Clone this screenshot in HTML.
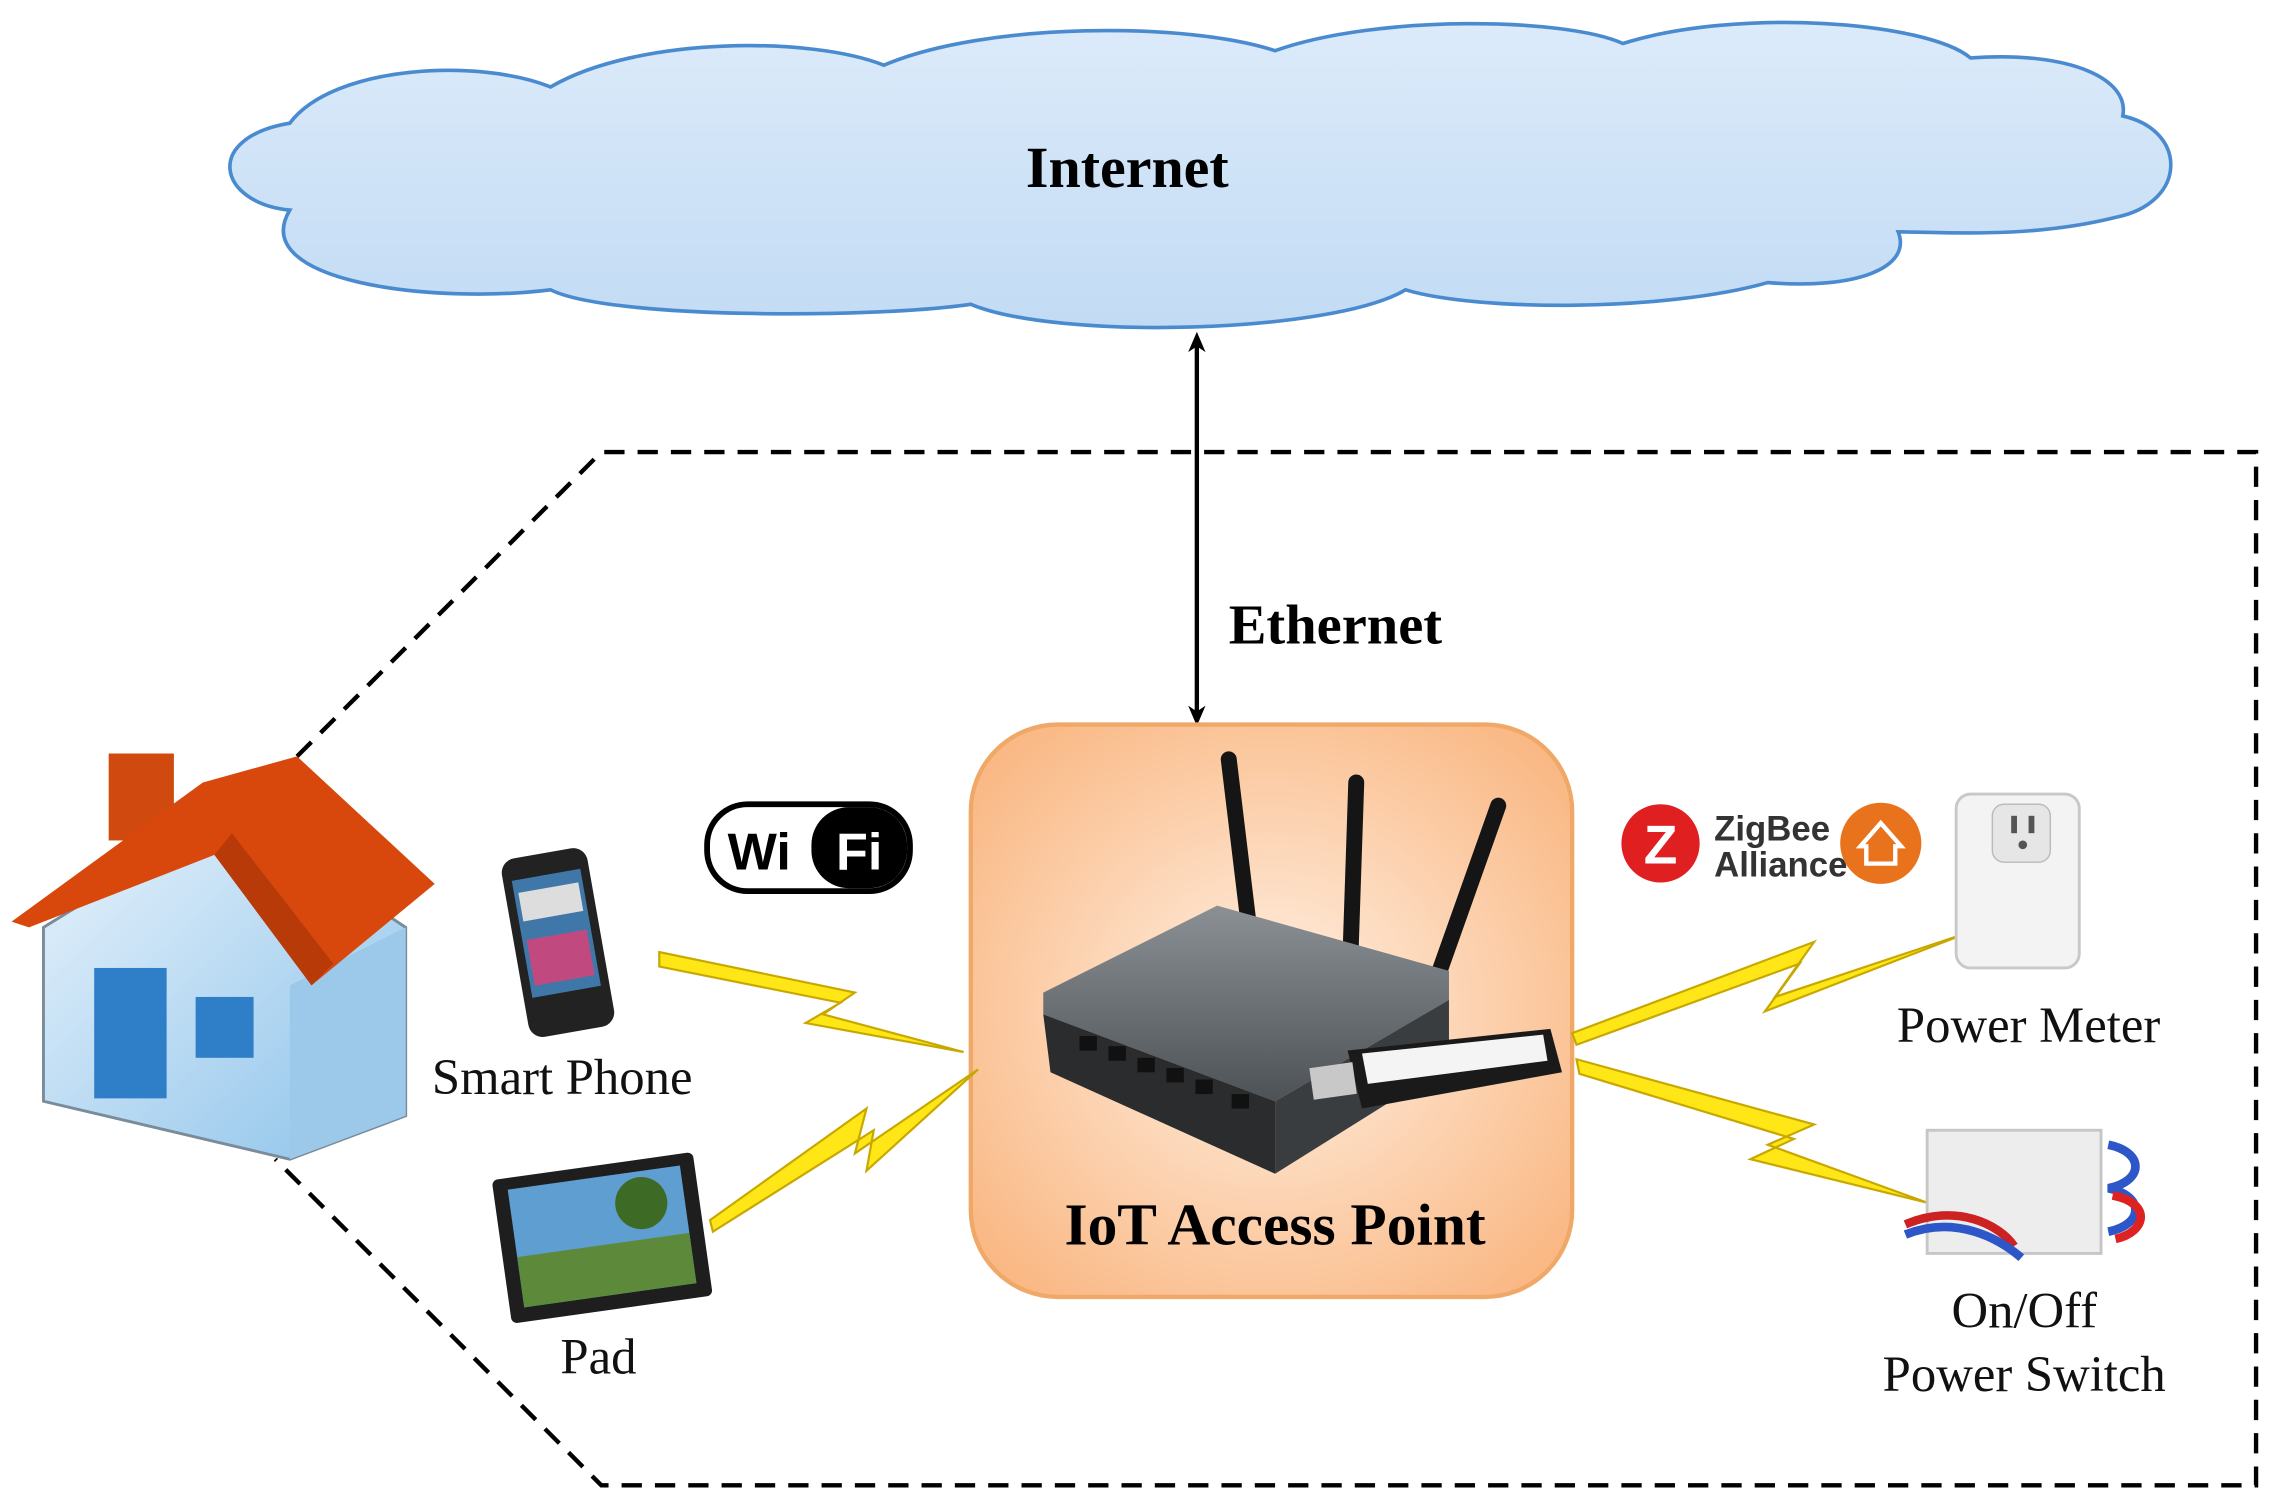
<!DOCTYPE html>
<html><head><meta charset="utf-8"><style>
html,body{margin:0;padding:0;background:#fff;}
svg{display:block}
text{font-family:"Liberation Serif",serif;}
</style></head><body>
<svg width="2272" height="1507" viewBox="0 0 1568 1040" preserveAspectRatio="none">
<defs>
<linearGradient id="cl" x1="0" y1="0" x2="0" y2="1"><stop offset="0" stop-color="#dcebfa"/><stop offset="1" stop-color="#c2dbf4"/></linearGradient>
<radialGradient id="ap" cx="0.5" cy="0.5" r="0.7"><stop offset="0" stop-color="#fff1e4"/><stop offset="1" stop-color="#f9b27a"/></radialGradient>
<linearGradient id="wall" x1="0" y1="0" x2="1" y2="1"><stop offset="0" stop-color="#e8f3fc"/><stop offset="1" stop-color="#8cc2ea"/></linearGradient>
<linearGradient id="rt" x1="0" y1="0" x2="0" y2="1"><stop offset="0" stop-color="#8b9094"/><stop offset="1" stop-color="#4d5256"/></linearGradient>
<marker id="ah" markerWidth="14" markerHeight="14" refX="7" refY="7" orient="auto-start-reverse" markerUnits="userSpaceOnUse"><path d="M0,1 L14,7 L0,13 L4,7 Z" fill="#000"/></marker>
</defs>
<g fill="url(#cl)" stroke="#4a8bd0" stroke-width="2.5">
<path d="M200,145 C150,140 140,95 200,85 C230,45 330,40 380,60 C440,25 560,25 610,45 C680,15 820,15 880,35 C950,10 1080,12 1120,30 C1200,5 1330,15 1360,40 C1430,35 1470,55 1465,80 C1510,90 1510,140 1460,150 C1400,165 1340,160 1310,160 C1320,185 1280,200 1220,195 C1150,215 1020,215 970,200 C920,230 730,235 670,210 C600,220 420,220 380,200 C300,210 170,195 200,145 Z"/>
</g>
<text x="778" y="129" font-size="40" font-weight="bold" text-anchor="middle">Internet</text>
<polyline points="205,522 415,312 1557,312 1557,1025 415,1025 190,800" fill="none" stroke="#000" stroke-width="3" stroke-dasharray="14,9"/>
<line x1="826" y1="236" x2="826" y2="494" stroke="#000" stroke-width="3" marker-start="url(#ah)" marker-end="url(#ah)"/>
<text x="848" y="444" font-size="39" font-weight="bold">Ethernet</text>
<g>
<polygon points="30,640 160,560 280,640 280,770 200,800 30,760" fill="url(#wall)" stroke="#7a8b9a" stroke-width="2"/>
<polygon points="200,800 280,770 280,640 200,680" fill="#9cc9ea"/>
<rect x="75" y="520" width="45" height="60" fill="#d04a10"/>
<polygon points="8,636 140,540 205,522 300,610 215,680 148,590 20,640" fill="#d8470c"/>
<polygon points="148,590 215,680 230,665 160,575" fill="#b83a08"/>
<rect x="65" y="668" width="50" height="90" fill="#2f7fc8"/>
<rect x="135" y="688" width="40" height="42" fill="#2f7fc8"/>
</g>
<rect x="670" y="500" width="415" height="395" rx="60" fill="url(#ap)" stroke="#f0a868" stroke-width="3"/>
<text x="880" y="859" font-size="41" font-weight="bold" text-anchor="middle">IoT Access Point</text>
<g>
<line x1="848" y1="524" x2="862" y2="640" stroke="#151515" stroke-width="11" stroke-linecap="round"/>
<line x1="936" y1="540" x2="932" y2="660" stroke="#151515" stroke-width="11" stroke-linecap="round"/>
<line x1="1034" y1="556" x2="990" y2="680" stroke="#151515" stroke-width="11" stroke-linecap="round"/>
<polygon points="720,685 840,625 1000,670 1000,690 880,760 720,700" fill="url(#rt)"/>
<polygon points="720,700 880,760 880,810 725,740" fill="#2a2c2e"/>
<polygon points="880,760 1000,690 1000,735 880,810" fill="#3a3d40"/>
<g fill="#111"><rect x="745" y="715" width="12" height="10"/><rect x="765" y="722" width="12" height="10"/><rect x="785" y="730" width="12" height="10"/><rect x="805" y="737" width="12" height="10"/><rect x="825" y="745" width="12" height="10"/><rect x="850" y="755" width="12" height="10"/></g>
<polygon points="930,725 1070,710 1078,740 940,765" fill="#1a1a1a"/>
<polygon points="940,727 1065,714 1068,732 944,748" fill="#f4f4f4"/>
<rect x="905" y="735" width="30" height="22" fill="#c8c8c8" transform="rotate(-8 920 746)"/>
</g>
<g fill="#ffe617" stroke="#c8a800" stroke-width="1.5">
<polygon points="455,657 590,685 568,700 665,726 556,706 580,692 455,667"/>
<polygon points="490,842 598,765 590,796 675,738 598,808 603,780 492,850"/>
<polygon points="1085,713 1252,650 1225,688 1360,643 1218,698 1242,665 1088,721"/>
<polygon points="1088,731 1252,776 1220,790 1330,830 1208,800 1238,786 1090,741"/>
</g>
<g transform="rotate(-10 385 650)">
<rect x="355" y="588" width="60" height="125" rx="10" fill="#222"/>
<rect x="361" y="603" width="48" height="82" fill="#3f78a8"/>
<rect x="364" y="612" width="42" height="20" fill="#ddd"/>
<rect x="364" y="645" width="42" height="32" fill="#c04a80"/>
</g>
<g transform="rotate(-8 410 850)">
<rect x="345" y="805" width="140" height="100" rx="4" fill="#1e1e1e"/>
<rect x="355" y="813" width="120" height="82" fill="#5f9ed0"/>
<rect x="355" y="860" width="120" height="35" fill="#5c8a3a"/>
<circle cx="445" cy="835" r="18" fill="#3d6b25"/>
</g>
<rect x="1350" y="548" width="85" height="120" rx="10" fill="#f3f3f3" stroke="#c8c8c8" stroke-width="2"/>
<rect x="1375" y="555" width="40" height="40" rx="8" fill="#e6e6e6" stroke="#bbb"/>
<rect x="1388" y="563" width="4" height="12" fill="#555"/><rect x="1400" y="563" width="4" height="12" fill="#555"/><circle cx="1396" cy="583" r="3" fill="#555"/>
<rect x="1330" y="780" width="120" height="85" fill="#ededed" stroke="#c6c6c6" stroke-width="2"/>
<path d="M1315,845 C1350,830 1380,845 1390,860" stroke="#c22" stroke-width="6" fill="none"/>
<path d="M1315,852 C1350,838 1380,855 1395,868" stroke="#2d56c8" stroke-width="6" fill="none"/>
<path d="M1455,790 C1480,795 1480,815 1455,820 C1480,825 1480,845 1455,850" stroke="#2d56c8" stroke-width="6" fill="none"/>
<path d="M1458,825 C1485,830 1482,850 1460,855" stroke="#d22" stroke-width="6" fill="none"/>
<g font-size="35" text-anchor="middle" fill="#111">
<text x="388" y="755">Smart Phone</text>
<text x="413" y="948">Pad</text>
<text x="1400" y="719">Power Meter</text>
<text x="1397" y="916">On/Off</text>
<text x="1397" y="960">Power Switch</text>
</g>
<rect x="488" y="555" width="140" height="60" rx="28" fill="#fff" stroke="#000" stroke-width="4"/>
<rect x="560" y="557" width="66" height="56" rx="26" fill="#000"/>
<text x="524" y="600" font-size="36" font-weight="bold" text-anchor="middle" fill="#000" style="font-family:'Liberation Sans',sans-serif">Wi</text>
<text x="593" y="600" font-size="36" font-weight="bold" text-anchor="middle" fill="#fff" style="font-family:'Liberation Sans',sans-serif">Fi</text>
<circle cx="1146" cy="582" r="27" fill="#e02020"/>
<text x="1146" y="596" font-size="38" font-weight="bold" text-anchor="middle" fill="#fff" style="font-family:'Liberation Sans',sans-serif">Z</text>
<text x="1183" y="580" font-size="24" font-weight="bold" fill="#333" style="font-family:'Liberation Sans',sans-serif">ZigBee</text>
<text x="1183" y="605" font-size="24" font-weight="bold" fill="#333" style="font-family:'Liberation Sans',sans-serif">Alliance</text>
<circle cx="1298" cy="582" r="28" fill="#e8731c"/>
<polygon points="1284,584 1298,568 1312,584 1308,584 1308,596 1288,596 1288,584" fill="none" stroke="#fff" stroke-width="3"/>
</svg>
</body></html>
